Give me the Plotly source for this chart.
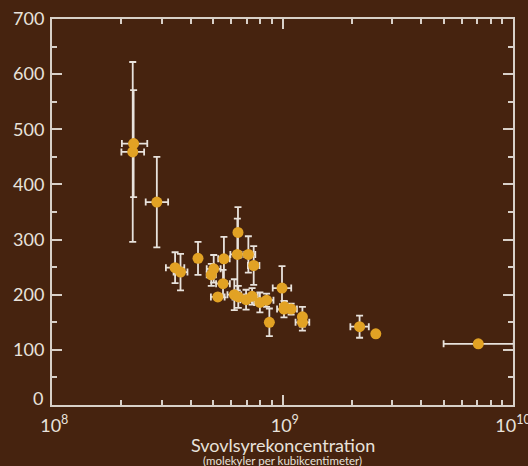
import plotly.graph_objects as go

# Sulfuric acid concentration (molecules per cm^3)
conc = [2.26e8, 2.24e8, 2.85e8, 3.42e8, 3.61e8, 4.30e8, 4.91e8, 5.03e8, 5.24e8, 5.52e8,
        5.57e8, 6.18e8, 6.37e8, 6.41e8, 6.43e8, 6.95e8, 7.11e8, 7.38e8, 7.50e8, 7.98e8,
        8.53e8, 8.77e8, 9.95e8, 1.015e9, 1.02e9, 1.09e9, 1.22e9, 1.22e9, 2.16e9, 2.54e9,
        7.07e9]
conc_err_minus = [0.25e8, 0.24e8, 0.30e8, 0.30e8, 0.24e8, 0, 0.22e8, 0.34e8, 0.35e8, 0.37e8,
                  0.31e8, 0.41e8, 0.43e8, 0, 0.36e8, 0.39e8, 0.47e8, 0.41e8, 0.42e8, 0.45e8,
                  0.57e8, 0, 0.88e8, 0.68e8, 0.46e8, 0.61e8, 0, 0.81e8, 1.9e8, 0,
                  2.07e9]
conc_err_plus = [0.33e8, 0.27e8, 0.34e8, 0.33e8, 0.26e8, 0, 0.23e8, 0.36e8, 0.37e8, 0.39e8,
                 0.33e8, 0.44e8, 0.46e8, 0, 0.38e8, 0.41e8, 0.51e8, 0.44e8, 0.44e8, 0.47e8,
                 0.61e8, 0, 0.96e8, 0.73e8, 0.48e8, 0.65e8, 0, 0.87e8, 2.08e8, 0,
                 3.0e9]
values = [474, 459, 368, 249, 241, 266, 236, 247, 196, 220,
          265, 200, 273, 313, 196, 191, 273, 197, 253, 186,
          190, 150, 212, 174, 178, 174, 160, 150, 142, 129,
          111]
values_err = [97, 163, 82, 28, 33, 30, 20, 25, 0, 25,
              40, 28, 65, 46, 20, 18, 33, 15, 35, 18,
              12, 25, 40, 15, 10, 10, 18, 15, 20, 0,
              0]

x_ticks = [1e8, 1e9, 1e10]
x_ticklabels = ["&nbsp;10<sup>8</sup>", "&nbsp;10<sup>9</sup>", "10<sup>10</sup>"]
y_ticks = [0, 100, 200, 300, 400, 500, 600, 700]
y_ticklabels = ["", "100", "200", "300", "400", "500", "600", "700"]
y_zero_label = "0"
x_title = "Svovlsyrekoncentration"
x_subtitle = "(molekyler per kubikcentimeter)"

BG = "#46230F"
FG = "#E8E2DC"
LINE = "#D8D0C8"
DOT = "#E2A224"
FONT = "Lato, Open Sans, sans-serif"

fig = go.Figure()
fig.add_trace(go.Scatter(
    x=conc, y=values, mode="markers",
    marker=dict(size=11, color=DOT, line=dict(width=0)),
    error_y=dict(type="data", array=values_err, visible=True,
                 color="#E8E2DC", thickness=1.8, width=3.5),
    error_x=dict(type="data", array=conc_err_plus, arrayminus=conc_err_minus,
                 symmetric=False, visible=True,
                 color="#E8E2DC", thickness=1.8, width=3.5),
    showlegend=False, cliponaxis=True,
))

axis_common = dict(showline=True, linecolor=LINE, linewidth=2, mirror="allticks",
                   ticks="inside", tickcolor=LINE, tickwidth=1.5, showgrid=False,
                   zeroline=False, automargin=False, ticklabeloverflow="allow",
                   tickfont=dict(family=FONT, size=18, color=FG))

fig.update_xaxes(type="log", range=[8, 10], tickvals=x_ticks, ticktext=x_ticklabels,
                 ticklen=10, ticklabelstandoff=3,
                 minor=dict(dtick="D1", ticks="inside", ticklen=5, tickcolor=LINE,
                            tickwidth=1.5, showgrid=False),
                 **axis_common)
fig.update_yaxes(range=[0, 700], tickvals=y_ticks, ticktext=y_ticklabels, ticklen=10,
                 ticklabelstandoff=2,
                 minor=dict(dtick=50, ticks="inside", ticklen=5, tickcolor=LINE,
                            tickwidth=1.5, showgrid=False),
                 **axis_common)

fig.add_annotation(text=y_zero_label, xref="paper", yref="y", x=0, y=y_ticks[0],
                   xanchor="right", yanchor="middle", xshift=-7, yshift=7,
                   showarrow=False, font=dict(family=FONT, size=18, color=FG))
fig.add_annotation(text=x_title, xref="paper", yref="paper", x=0.5, y=-0.103,
                   xanchor="center", yanchor="middle", showarrow=False,
                   font=dict(family=FONT, size=18, color=FG))
fig.add_annotation(text=x_subtitle, xref="paper", yref="paper", x=0.5, y=-0.143,
                   xanchor="center", yanchor="middle", showarrow=False,
                   font=dict(family=FONT, size=11.5, color=FG))

fig.update_layout(width=528, height=466, paper_bgcolor=BG, plot_bgcolor=BG,
                  margin=dict(l=52, r=15, t=19, b=61), font=dict(family=FONT, color=FG))

fig.write_html("out.html", config={"displayModeBar": False},
               post_script="document.body.style.margin='0';document.body.style.background='#46230F';document.body.style.overflow='hidden';")
